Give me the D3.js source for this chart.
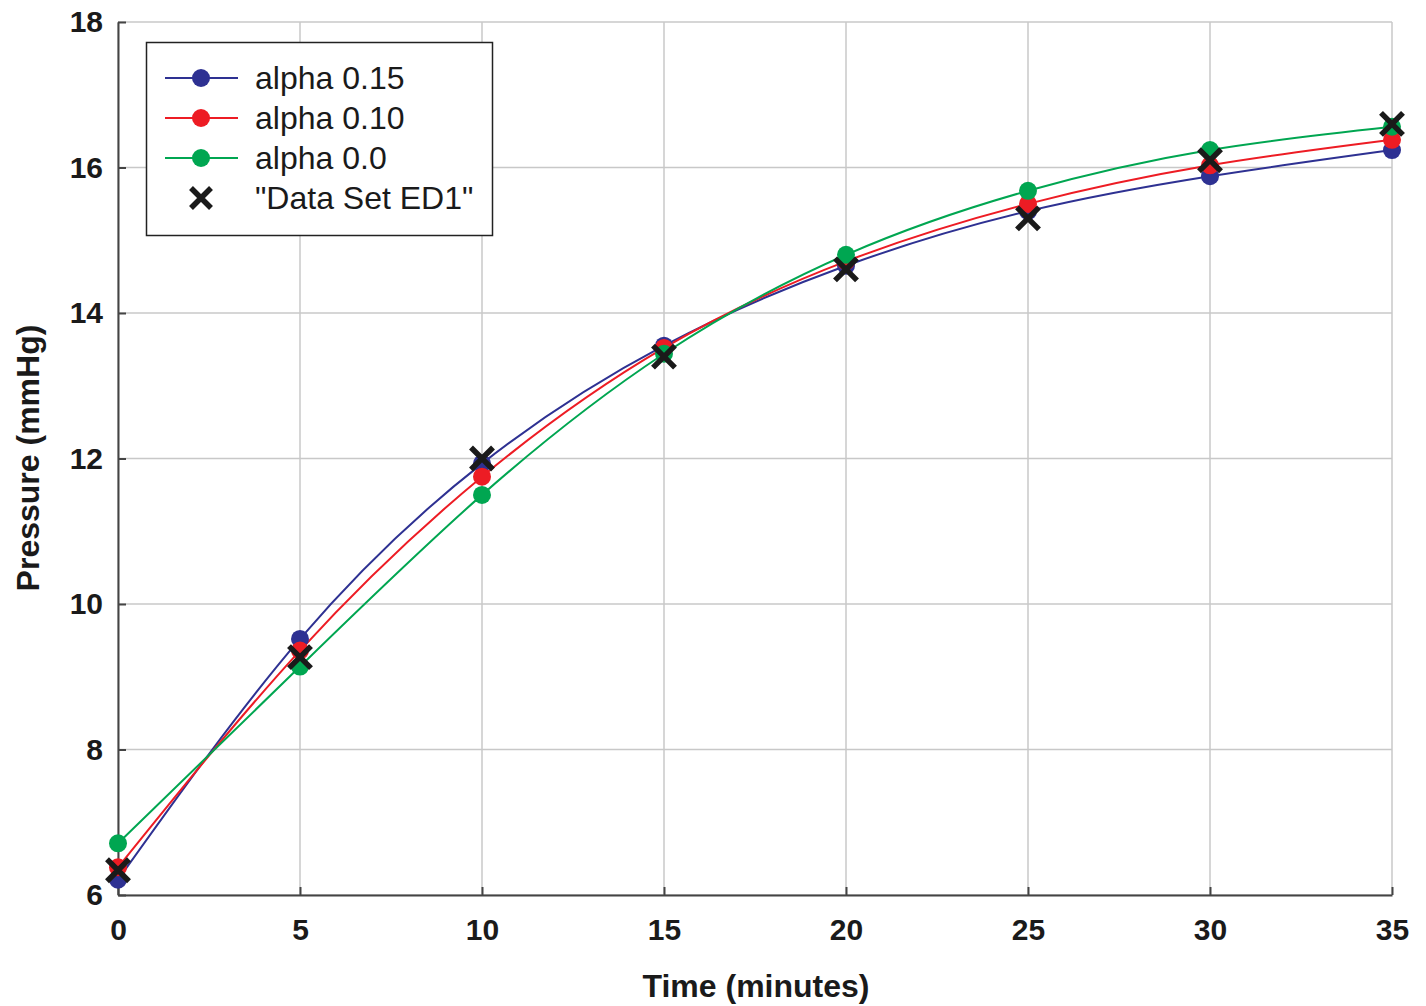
<!DOCTYPE html>
<html><head><meta charset="utf-8">
<script src="https://cdn.jsdelivr.net/npm/d3@7"></script>
<style>body{margin:0;background:#fff}svg{display:block}text{font-family:Arial,"Liberation Sans",sans-serif}</style>
</head><body><svg id="c" width="1426" height="1006"></svg>
<script>
const times = [0,5,10,15,20,25,30,35];
const alpha015 = [6.21,9.52,11.93,13.55,14.65,15.40,15.88,16.24];
const alpha010 = [6.38,9.36,11.75,13.52,14.71,15.50,16.03,16.38];
const alpha00  = [6.71,9.14,11.50,13.44,14.80,15.68,16.24,16.56];
const dataED1  = [6.34,9.27,12.00,13.40,14.60,15.30,16.10,16.60];
const xTicks = [0,5,10,15,20,25,30,35];
const yTicks = [6,8,10,12,14,16,18];
const seriesNames = ["alpha 0.15","alpha 0.10","alpha 0.0"];
const dataName = "\"Data Set ED1\"";
const colors = ["#2e3192","#ed1c24","#00a651"];

const svg = d3.select("#c");
const L=118,R=1392,T=22,B=895;
const x = d3.scaleLinear().domain([0,35]).range([L,R]);
const y = d3.scaleLinear().domain([6,18]).range([B,T]);

// grid
svg.append("g").selectAll("line").data(xTicks).join("line")
  .attr("x1",d=>x(d)).attr("x2",d=>x(d)).attr("y1",T).attr("y2",B)
  .attr("stroke","#c8c8c8").attr("stroke-width",1.5);
svg.append("g").selectAll("line").data(yTicks).join("line")
  .attr("x1",L).attr("x2",R).attr("y1",d=>y(d)).attr("y2",d=>y(d))
  .attr("stroke","#c8c8c8").attr("stroke-width",1.5);

// axes
const xa = svg.append("g").attr("transform",`translate(0,${B})`)
  .call(d3.axisBottom(x).tickValues(xTicks).tickSize(-8).tickPadding(20).tickSizeOuter(0));
const ya = svg.append("g").attr("transform",`translate(${L},0)`)
  .call(d3.axisLeft(y).tickValues(yTicks).tickSize(-8).tickPadding(15).tickSizeOuter(0));
[xa,ya].forEach(a=>{
  a.select(".domain").attr("stroke","#444").attr("stroke-width",2);
  a.selectAll(".tick line").attr("stroke","#444").attr("stroke-width",2);
  a.selectAll("text").attr("font-size",30).attr("font-weight","bold").attr("fill","#1a1a1a")
   .attr("font-family","Arial,'Liberation Sans',sans-serif");
});
xa.selectAll("text").attr("dy","0.71em").attr("y",24);

// titles
svg.append("text").attr("x",756).attr("y",997).attr("text-anchor","middle")
  .attr("font-size",32).attr("font-weight","bold").attr("fill","#1a1a1a").text("Time (minutes)");
svg.append("text").attr("transform","translate(39,458) rotate(-90)").attr("text-anchor","middle")
  .attr("font-size",32).attr("font-weight","bold").attr("fill","#1a1a1a").text("Pressure (mmHg)");

// lines
const series=[alpha015,alpha010,alpha00];
const line = d3.line().x((d,i)=>x(times[i])).y(d=>y(d)).curve(d3.curveNatural);
series.forEach((s,k)=>{
  svg.append("path").attr("d",line(s)).attr("fill","none").attr("stroke",colors[k]).attr("stroke-width",2);
});
series.forEach((s,k)=>{
  svg.append("g").selectAll("circle").data(s).join("circle")
    .attr("cx",(d,i)=>x(times[i])).attr("cy",d=>y(d)).attr("r",9).attr("fill",colors[k]);
});
const xs=11;
function cross(g,cx,cy,s){
  g.append("path").attr("d",`M${cx-s},${cy-s}L${cx+s},${cy+s}M${cx-s},${cy+s}L${cx+s},${cy-s}`)
   .attr("stroke","#1a1a1a").attr("stroke-width",5.5).attr("fill","none");
}
const cg=svg.append("g");
dataED1.forEach((d,i)=>cross(cg,x(times[i]),y(d),xs));

// legend
const lg=svg.append("g");
lg.append("rect").attr("x",146.5).attr("y",42.5).attr("width",346).attr("height",193)
  .attr("fill","#fff").attr("stroke","#222").attr("stroke-width",1.5);
const rows=[78,118,158,198];
seriesNames.forEach((n,k)=>{
  lg.append("line").attr("x1",165).attr("x2",238).attr("y1",rows[k]).attr("y2",rows[k])
    .attr("stroke",colors[k]).attr("stroke-width",2);
  lg.append("circle").attr("cx",201).attr("cy",rows[k]).attr("r",9).attr("fill",colors[k]);
  lg.append("text").attr("x",255).attr("y",rows[k]).attr("dy","0.35em").attr("font-size",32)
    .attr("fill","#1a1a1a").text(n);
});
cross(lg,201,rows[3],10);
lg.append("text").attr("x",255).attr("y",rows[3]).attr("dy","0.35em").attr("font-size",32)
  .attr("fill","#1a1a1a").text(dataName);
</script></body></html>
